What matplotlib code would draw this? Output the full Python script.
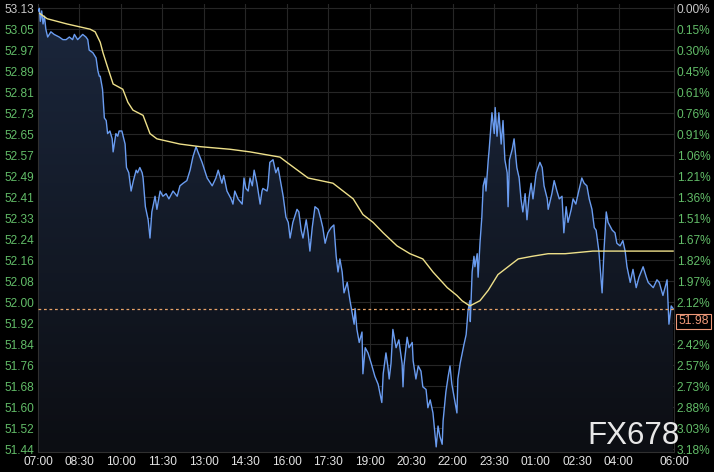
import numpy as np
import matplotlib
matplotlib.use("Agg")
import matplotlib.pyplot as plt
from matplotlib.patches import Polygon
from matplotlib.colors import LinearSegmentedColormap

plt.rcParams['font.family'] = ['Liberation Sans', 'DejaVu Sans']

# minutes after 07:00, price
price_pts = [
    (1, 53.12), (3, 53.13), (5, 53.08), (8, 53.12), (11, 53.07), (14, 53.10), (17, 53.05),
    (21, 53.02), (28, 53.04), (35, 53.03), (46, 53.02), (54, 53.01), (61, 53.01), (68, 53.02),
    (75, 53.01), (79, 53.03), (86, 53.01), (97, 53.03), (104, 53.02), (108, 53.01), (111, 52.97),
    (119, 52.96), (126, 52.94), (130, 52.89), (133, 52.87), (135, 52.87), (140, 52.82),
    (144, 52.71), (148, 52.70), (151, 52.65), (156, 52.66), (161, 52.63), (163, 52.58),
    (169, 52.65), (173, 52.64), (176, 52.66), (182, 52.66), (189, 52.61), (192, 52.52),
    (197, 52.50), (202, 52.43), (207, 52.47), (213, 52.51), (216, 52.50), (221, 52.52),
    (226, 52.50), (228, 52.48), (233, 52.37), (239, 52.32), (243, 52.25), (247, 52.35),
    (254, 52.41), (258, 52.36), (265, 52.43), (271, 52.41), (278, 52.42), (284, 52.40),
    (293, 52.43), (302, 52.41), (308, 52.45), (315, 52.46), (323, 52.47), (330, 52.51),
    (336, 52.56), (343, 52.60), (347, 52.58), (356, 52.54), (367, 52.48), (378, 52.45),
    (386, 52.48), (391, 52.51), (399, 52.46), (403, 52.49), (410, 52.43), (419, 52.40),
    (423, 52.38), (427, 52.43), (434, 52.40), (443, 52.38), (447, 52.48), (451, 52.44),
    (456, 52.43), (460, 52.48), (465, 52.45), (469, 52.51), (475, 52.46), (482, 52.38),
    (486, 52.43), (488, 52.44), (497, 52.43), (499, 52.45), (503, 52.54), (510, 52.55),
    (516, 52.50), (521, 52.52), (525, 52.48), (532, 52.41), (538, 52.33), (543, 52.31),
    (547, 52.25), (553, 52.31), (562, 52.36), (566, 52.35), (571, 52.28), (575, 52.25),
    (582, 52.32), (586, 52.27), (590, 52.20), (595, 52.29), (601, 52.37), (608, 52.36),
    (614, 52.32), (618, 52.29), (623, 52.23), (629, 52.27), (636, 52.29), (642, 52.30),
    (647, 52.18), (651, 52.12), (655, 52.17), (660, 52.12), (664, 52.04), (671, 52.08),
    (677, 52.01), (681, 51.97), (686, 51.92), (688, 51.98), (692, 51.90), (697, 51.85),
    (703, 51.89), (705, 51.73), (710, 51.83), (716, 51.81), (723, 51.77), (731, 51.72),
    (738, 51.69), (746, 51.62), (749, 51.73), (755, 51.81), (759, 51.76), (762, 51.71),
    (766, 51.77), (770, 51.90), (777, 51.83), (783, 51.86), (790, 51.77), (792, 51.68),
    (794, 51.76), (801, 51.87), (805, 51.83), (812, 51.85), (814, 51.78), (820, 51.71),
    (825, 51.76), (831, 51.74), (835, 51.68), (842, 51.67), (846, 51.60), (851, 51.63),
    (857, 51.58), (864, 51.45), (868, 51.53), (872, 51.49), (877, 51.46), (879, 51.55),
    (885, 51.66), (890, 51.72), (894, 51.76), (898, 51.69), (903, 51.64), (909, 51.58),
    (911, 51.71), (916, 51.77), (924, 51.84), (929, 51.88), (933, 51.97), (937, 52.01),
    (938, 51.93), (942, 52.12), (946, 52.18), (948, 52.14), (953, 52.19), (955, 52.10),
    (959, 52.23), (963, 52.33), (966, 52.45), (970, 52.48), (972, 52.43), (977, 52.55),
    (979, 52.59), (983, 52.68), (985, 52.73), (990, 52.65), (992, 52.75), (996, 52.64),
    (1000, 52.73), (1005, 52.61), (1009, 52.70), (1013, 52.55), (1018, 52.50), (1020, 52.37),
    (1023, 52.55), (1029, 52.59), (1033, 52.63), (1039, 52.52), (1044, 52.48), (1048, 52.40),
    (1052, 52.35), (1057, 52.42), (1061, 52.32), (1065, 52.40), (1070, 52.46), (1074, 52.40),
    (1081, 52.50), (1089, 52.54), (1094, 52.52), (1098, 52.45), (1105, 52.40), (1107, 52.36),
    (1115, 52.42), (1120, 52.47), (1126, 52.43), (1131, 52.40), (1137, 52.41), (1141, 52.27),
    (1146, 52.37), (1150, 52.31), (1157, 52.36), (1161, 52.40), (1167, 52.38), (1172, 52.42),
    (1180, 52.48), (1185, 52.46), (1191, 52.45), (1196, 52.40), (1202, 52.36), (1207, 52.29),
    (1211, 52.28), (1217, 52.20), (1224, 52.04), (1228, 52.20), (1233, 52.35), (1237, 52.31),
    (1246, 52.28), (1252, 52.27), (1256, 52.23), (1263, 52.22), (1269, 52.24), (1274, 52.20),
    (1278, 52.14), (1285, 52.08), (1291, 52.13), (1298, 52.06), (1304, 52.10), (1313, 52.14),
    (1320, 52.10), (1324, 52.08), (1335, 52.06), (1343, 52.09), (1348, 52.08), (1356, 52.03),
    (1365, 52.09), (1369, 51.92), (1374, 51.99), (1378, 51.98),
]

# average price line (yellow)
avg_pts = [
    (4, 53.11), (20, 53.09), (63, 53.07), (113, 53.05), (124, 53.04), (135, 53.00),
    (141, 52.96), (150, 52.91), (163, 52.84), (184, 52.82), (195, 52.77), (206, 52.74),
    (228, 52.72), (243, 52.65), (258, 52.63), (308, 52.61), (352, 52.60), (417, 52.59),
    (460, 52.58), (525, 52.56), (540, 52.54), (586, 52.48), (640, 52.46), (662, 52.43),
    (684, 52.40), (705, 52.34), (727, 52.31), (749, 52.27), (779, 52.22), (807, 52.19),
    (835, 52.17), (857, 52.12), (888, 52.06), (909, 52.03), (920, 52.01), (937, 51.99),
    (959, 52.01), (977, 52.05), (998, 52.11), (1020, 52.14), (1042, 52.17), (1072, 52.18),
    (1107, 52.19), (1144, 52.19), (1204, 52.20), (1235, 52.20), (1300, 52.20), (1378, 52.20),
]

last_price = 51.98
ref_price = 53.13
low_price = 51.44
time_labels = ['07:00', '08:30', '10:00', '11:30', '13:00', '14:30', '16:00', '17:30',
               '19:00', '20:30', '22:00', '23:30', '01:00', '02:30', '04:00', '06:00']
time_pos = [0, 90, 180, 270, 360, 450, 540, 630, 720, 810, 900, 990, 1080, 1170, 1260, 1380]

t, p = zip(*price_pts)
ta, pa = zip(*avg_pts)

W, H = 714, 472
fig = plt.figure(figsize=(W / 100, H / 100), dpi=100, facecolor='black')
top_px, bot_px = 4, 452
ax = fig.add_axes([38 / W, 1 - bot_px / H, (674 - 38) / W, (bot_px - top_px) / H])
ax.set_facecolor('black')

px = 0.003833  # price per pixel
ylo = low_price - (bot_px - 449.5) * px
yhi = ref_price + (8.3 - top_px) * px
ax.set_xlim(0, 1380)
ax.set_ylim(ylo, yhi)

step = (ref_price - low_price) / 21
ticks = [ref_price - k * step for k in range(22)]

# grid
for y in ticks:
    ax.axhline(y, color='#262626', lw=0.8, zorder=0)
for x in time_pos[1:-1]:
    ax.axvline(x, color='#262626', lw=0.8, zorder=0)

# gradient fill under price
verts = [(t[0], ylo)] + list(zip(t, p)) + [(t[-1], ylo)]
poly = Polygon(verts, closed=True, facecolor='none', edgecolor='none')
ax.add_patch(poly)
cmap = LinearSegmentedColormap.from_list('g', ['#0c0e13', '#1b273d'])
grad = np.linspace(0, 1, 256).reshape(-1, 1)
im = ax.imshow(grad, extent=[0, 1380, ylo, yhi], aspect='auto', cmap=cmap,
               origin='lower', zorder=1)
im.set_clip_path(poly)

ax.plot(t, p, color='#6a9cf0', lw=1.0, zorder=3)
ax.plot(ta, pa, color='#eee08a', lw=1.0, zorder=4)
ax.axhline(last_price, color='#e8a468', lw=0.9, dashes=(2.2, 2.2), zorder=5)

# axes styling
ax.spines['top'].set_visible(False)
for s in ['left', 'right', 'bottom']:
    ax.spines[s].set_color('#303030')

ax.set_yticks(ticks)
ax.set_yticklabels([f'{v:.2f}' for v in ticks])
ax.tick_params(axis='y', length=0, pad=3, labelsize=8.6)
for i, lab in enumerate(ax.get_yticklabels()):
    lab.set_color('#c8c8c8' if i == 0 else '#62bc68')

ax.set_xticks(time_pos)
ax.set_xticklabels(time_labels)
ax.tick_params(axis='x', length=0, pad=3, labelsize=8.6, colors='#e4e4e4')

ax2 = ax.twinx()
ax2.set_ylim(ylo, yhi)
pct_ticks = [tk for k, tk in enumerate(ticks) if k != 15]
ax2.set_yticks(pct_ticks)
ax2.set_yticklabels([f'{(ref_price - v) / ref_price * 100:.2f}%' for v in pct_ticks])
ax2.tick_params(axis='y', length=0, pad=2, labelsize=8.6)
for i, lab in enumerate(ax2.get_yticklabels()):
    lab.set_color('#c8c8c8' if i == 0 else '#62bc68')
for s in ax2.spines.values():
    s.set_visible(False)

# last price box
ax2.annotate(f'{last_price:.2f}', xy=(1, last_price), xycoords=('axes fraction', 'data'),
             xytext=(3, -5), textcoords='offset points', ha='left', va='top',
             fontsize=8.8, color='#f09a7a',
             bbox=dict(boxstyle='square,pad=0.15', fc='black', ec='#f09a7a', lw=0.8))

fig.text(634 / W, 1 - 436 / H, 'FX678', ha='center', va='center', fontsize=22.5,
         color='#e8e8e8', zorder=10)

fig.savefig('out.png', dpi=100, facecolor='black')
